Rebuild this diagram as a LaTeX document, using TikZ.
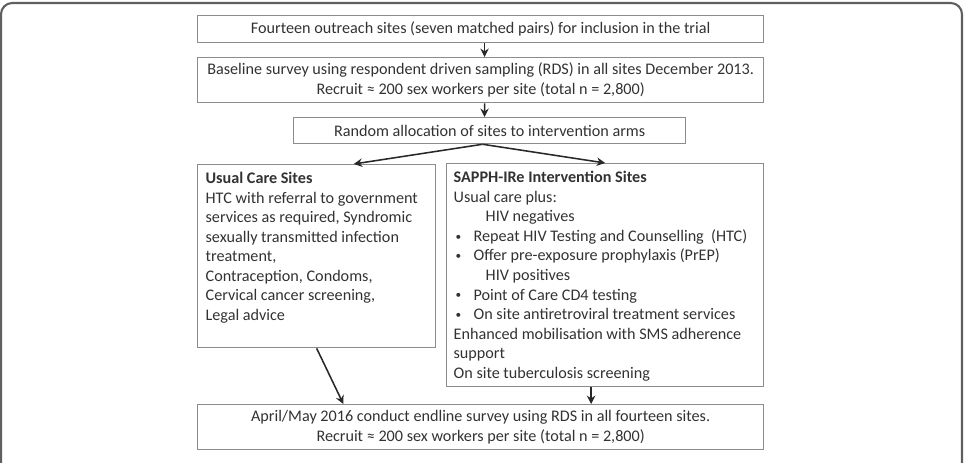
\documentclass[tikz,border=0pt]{standalone}
\usepackage{fontspec}
\setmainfont{Carlito}
\usepackage{tikz}
\usetikzlibrary{arrows.meta,positioning,calc}
\definecolor{boxgray}{RGB}{140,140,140}
\definecolor{textgray}{RGB}{50,50,50}
\definecolor{arrowgray}{RGB}{40,40,40}
\definecolor{framegray}{RGB}{95,95,95}
\newcommand{\pxunit}{0.025cm}
\newcommand{\bulletitem}[1]{\hspace*{1.4pt}\makebox[12.8pt][l]{\raisebox{0.8pt}{\fontsize{8}{8}\selectfont\textbullet}}#1}

\begin{document}
\begin{tikzpicture}[x=0.025cm, y=-0.025cm,
    box/.style={draw=boxgray, line width=0.9pt, text=textgray, anchor=north west,
      inner sep=0pt, align=center, font=\fontsize{11.5}{13.9}\selectfont},
    flow/.style={-{Stealth[length=6pt,width=6pt,inset=2pt]}, arrowgray, line width=1.1pt}]
    \useasboundingbox (0,0) rectangle (967,462);
    \draw[framegray, line width=1.5pt, rounded corners=8pt] (1,3) rectangle (962,490);
    \node[box, minimum width=566*\pxunit, minimum height=27*\pxunit] (sites) at (197,15)
      {Fourteen outreach sites (seven matched pairs) for inclusion in the trial};
    \node[box, minimum width=566*\pxunit, minimum height=45*\pxunit] (baseline) at (197,57)
      {Baseline survey using respondent driven sampling (RDS) in all sites December 2013.\\
       Recruit ≈ 200 sex workers per site (total n = 2,800)};
    \node[box, minimum width=392*\pxunit, minimum height=26*\pxunit] (random) at (293,117)
      {Random allocation of sites to intervention arms};
    \node[box, inner xsep=5.7pt, inner ysep=5.5pt] (usual) at (197,164)
      {\parbox[c][119.2pt][t]{157.9pt}{\raggedright
        \textbf{Usual Care Sites}\\
        HTC with referral to government\\
        services as required, Syndromic\\
        sexually transmitted infection\\
        treatment,\\
        Contraception, Condoms,\\
        Cervical cancer screening,\\
        Legal advice}};
    \node[box, inner xsep=5pt, inner ysep=5.5pt] (sapph) at (446,163)
      {\parbox[c][147.6pt][t]{215.5pt}{\raggedright
        \textbf{SAPPH-IRe Intervention Sites}\\
        Usual care plus:\\
        \hspace*{22.8pt}HIV negatives\\
        \bulletitem{Repeat HIV Testing and Counselling~ (HTC)}\\
        \bulletitem{Offer pre-exposure prophylaxis (PrEP)}\\
        \hspace*{22.8pt}HIV positives\\
        \bulletitem{Point of Care CD4 testing}\\
        \bulletitem{On site antiretroviral treatment services}\\
        Enhanced mobilisation with SMS adherence\\
        support\\
        On site tuberculosis screening}};
    \node[box, minimum width=566*\pxunit, minimum height=45*\pxunit] (endline) at (197,404)
      {April/May 2016 conduct endline survey using RDS in all fourteen sites.\\
       Recruit ≈ 200 sex workers per site (total n = 2,800)};
    \draw[flow] ([xshift=2.8pt]sites.south) -- ([xshift=2.8pt]baseline.north);
    \draw[flow] ([xshift=2.8pt]baseline.south) -- ([xshift=-3.6pt]random.north);
    \draw[flow] ([xshift=-5pt]random.south) -- ($(usual.north west)!0.655!(usual.north east)$);
    \draw[flow] ([xshift=-5pt]random.south) -- (sapph.north);
    \draw[flow] (usual.south) -- ($(endline.north west)!0.258!(endline.north east)$);
    \draw[flow] ([xshift=-10pt]sapph.south) -- ([xshift=-10pt]sapph.south |- endline.north);
\end{tikzpicture}
\end{document}
